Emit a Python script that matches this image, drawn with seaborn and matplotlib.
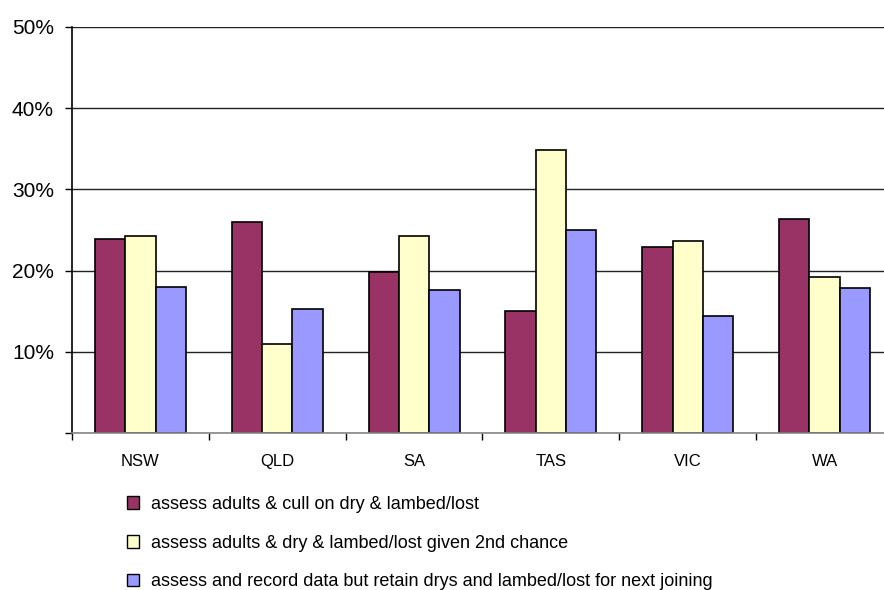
import matplotlib
matplotlib.use("Agg")
import matplotlib.pyplot as plt
import seaborn as sns
import pandas as pd
from matplotlib.patches import Patch
from matplotlib.ticker import FixedLocator

# State-level shares for each ewe assessment practice
states = ["NSW", "QLD", "SA", "TAS", "VIC", "WA"]
cull_on_dry = [0.239, 0.260, 0.198, 0.150, 0.229, 0.264]
second_chance = [0.242, 0.110, 0.242, 0.349, 0.237, 0.192]
retain_drys = [0.180, 0.153, 0.176, 0.250, 0.144, 0.179]

series_names = [
    "assess adults & cull on dry & lambed/lost",
    "assess adults & dry & lambed/lost given 2nd chance",
    "assess and record data but retain drys and lambed/lost for next joining",
]
series_colors = ["#993366", "#FFFFCC", "#9999FF"]
y_ticks = [0.0, 0.1, 0.2, 0.3, 0.4, 0.5]
y_tick_labels = ["", "10%", "20%", "30%", "40%", "50%"]

records = []
for name, vals in zip(series_names, [cull_on_dry, second_chance, retain_drys]):
    for st, v in zip(states, vals):
        records.append({"State": st, "Practice": name, "Share": v})
df = pd.DataFrame(records)

sns.set_theme(style="white")
plt.rcParams["font.family"] = ["Liberation Sans", "DejaVu Sans"]

fig = plt.figure(figsize=(8.84, 5.90), dpi=100)
ax = fig.add_axes([72 / 884, 1 - 433 / 590, 821 / 884, (433 - 27) / 590])

sns.barplot(
    data=df, x="State", y="Share", hue="Practice",
    order=states, hue_order=series_names,
    palette=series_colors, width=0.664,
    edgecolor="black", linewidth=1.2, saturation=1, ax=ax,
    legend=False, errorbar=None,
)

ax.set_xlim(-0.5, len(states) - 0.5)
ax.set_ylim(0, 0.5)
ax.set_yticks(y_ticks)
ax.set_yticklabels(y_tick_labels, fontsize=15, color="black")
ax.set_xlabel("")
ax.set_ylabel("")
ax.set_axisbelow(True)
ax.yaxis.grid(True, color="#222222", linewidth=1.0)
ax.xaxis.grid(False)

# category labels centred, tick marks at category boundaries
ax.set_xticks(range(len(states)))
ax.set_xticklabels(states, fontsize=12, color="black")
ax.xaxis.set_minor_locator(FixedLocator([i - 0.5 for i in range(len(states) + 1)]))
ax.tick_params(axis="x", which="major", length=0, pad=15)
ax.tick_params(axis="x", which="minor", bottom=True, length=5, width=1, color="black", direction="out")
ax.tick_params(axis="y", left=True, length=5, width=1, color="black", direction="out", pad=8)

for side in ["top", "right"]:
    ax.spines[side].set_visible(False)
ax.spines["left"].set_color("black")
ax.spines["left"].set_linewidth(1.2)
ax.spines["bottom"].set_color("#888888")
ax.spines["bottom"].set_linewidth(1.2)

handles = [Patch(facecolor=c, edgecolor="black", linewidth=1.0) for c in series_colors]
fig.legend(
    handles, series_names, loc="upper left",
    bbox_to_anchor=(127 / 884, 1 - 496 / 590),
    frameon=False, fontsize=13, handlelength=0.68, handleheight=0.68,
    handletextpad=0.65, labelspacing=1.2, borderpad=0, borderaxespad=0,
    labelcolor="black",
)

fig.savefig("out.png", dpi=100)
